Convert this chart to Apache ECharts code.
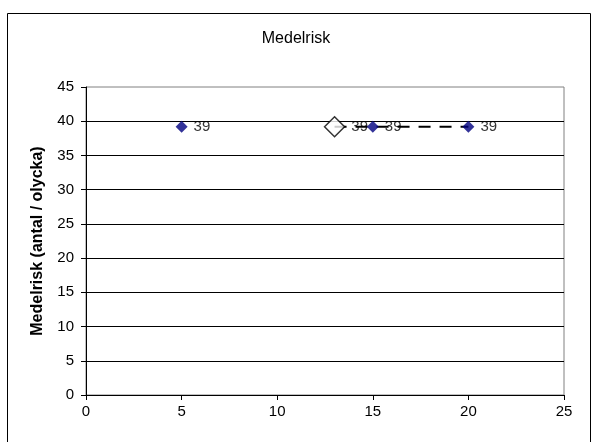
<!DOCTYPE html>
<html><head><meta charset="utf-8">
<script src="https://cdn.jsdelivr.net/npm/echarts@6/dist/echarts.min.js"></script>
<style>html,body{margin:0;padding:0;background:#fff}#c{width:592px;height:442px}</style>
</head><body><div id="c"></div>
<script>
const titleText = "Medelrisk";
const yAxisName = "Medelrisk (antal / olycka)";
const pointX = [5, 15, 20];
const pointY = [39.2, 39.2, 39.2];
const meanX = [13];
const meanY = [39.2];
const lineX = [13, 20];
const lineY = [39.2, 39.2];

const chart = echarts.init(document.getElementById('c'));
const font = 'Arial, "Liberation Sans", sans-serif';
chart.setOption({
  animation: false,
  backgroundColor: '#fff',
  title: {text: titleText, left: 'center', top: 26, textStyle: {fontFamily: font, fontSize: 16, fontWeight: 'normal', color: '#000'}},
  graphic: [{type: 'rect', shape: {x: 7.5, y: 13.5, width: 583, height: 440}, style: {fill: 'none', stroke: '#000', lineWidth: 1}, silent: true}],
  grid: {left: 86, right: 28, top: 87, bottom: 47, show: true, borderColor: '#808080', borderWidth: 1, backgroundColor: 'transparent'},
  xAxis: {type: 'value', min: 0, max: 25, interval: 5,
    axisLine: {show: true, onZero: false, lineStyle: {color: '#000'}},
    axisTick: {show: true, length: 5, inside: false, lineStyle: {color: '#000'}},
    axisLabel: {fontFamily: font, fontSize: 15, color: '#000', margin: 9},
    splitLine: {show: false}},
  yAxis: {type: 'value', min: 0, max: 45, interval: 5,
    name: yAxisName, nameLocation: 'middle', nameGap: 40, nameRotate: 90,
    nameTextStyle: {fontFamily: font, fontSize: 16, fontWeight: 'bold', color: '#000'},
    axisLine: {show: true, lineStyle: {color: '#000'}},
    axisTick: {show: true, length: 5, lineStyle: {color: '#000'}},
    axisLabel: {fontFamily: font, fontSize: 15, color: '#000', margin: 12},
    splitLine: {show: true, showMaxLine: false, showMinLine: false, lineStyle: {color: '#000', width: 1}}},
  series: [
    {type: 'line', data: lineX.map((x, i) => [x, lineY[i]]), symbol: 'none', z: 1,
      lineStyle: {color: '#000', width: 2, type: [12, 9]}},
    {type: 'scatter', data: meanX.map((x, i) => [x, meanY[i]]), symbol: 'diamond', symbolSize: 20, z: 3,
      itemStyle: {color: '#fff', borderColor: '#000', borderWidth: 1.5},
      label: {show: true, position: 'right', distance: 6, fontFamily: font, fontSize: 15, color: '#000',
        formatter: p => Math.round(p.value[1])}},
    {type: 'scatter', data: pointX.map((x, i) => [x, pointY[i]]), symbol: 'diamond', symbolSize: 12, z: 4,
      itemStyle: {color: '#000080'},
      label: {show: true, position: 'right', distance: 6, fontFamily: font, fontSize: 15, color: '#000',
        formatter: p => Math.round(p.value[1])}}
  ]
});
</script></body></html>
